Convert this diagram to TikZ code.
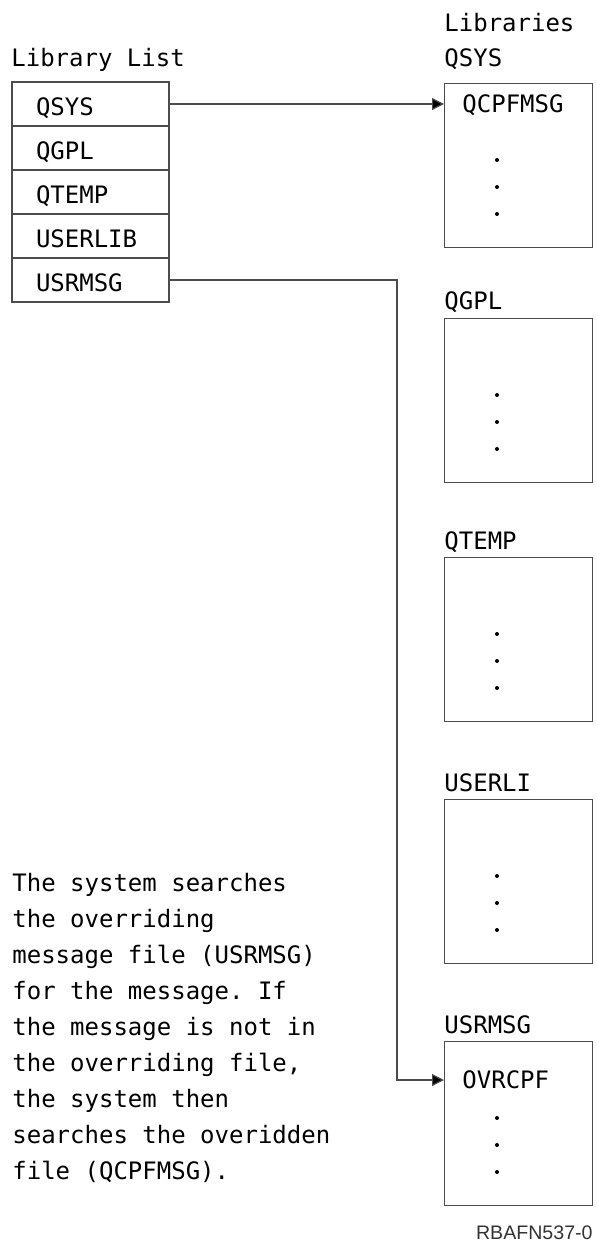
\documentclass[tikz,border=0pt]{standalone}
\usepackage{fontspec}
\setmainfont{DejaVu Sans Mono}
\newfontfamily\figfont{Liberation Sans}
\usetikzlibrary{positioning,arrows.meta}
\frenchspacing
\begin{document}
\begin{tikzpicture}[x=0.5pt,y=-0.5pt,
  every node/.style={font=\fontsize{12}{18}\selectfont,inner sep=0pt},
  row/.style={draw=black!70,line width=0.6pt,outer sep=0pt,minimum width=78.5pt,minimum height=22pt,
    text width=54.5pt,inner xsep=12pt,text height=12pt,text depth=0pt,align=left},
  libbox/.style={draw=black!70,line width=0.6pt,anchor=north west,minimum width=74pt,minimum height=82pt},
  link/.style={black!70,line width=0.6pt,-{Triangle[length=6pt,width=6pt,fill=black]}}]
\useasboundingbox (0,0) rectangle (597,1245);
% library list
\node[anchor=base west] (ll) at (11,67) {Library List};
\node[row] (r1) at (90.5,104) {QSYS};
\node[row,below=0pt of r1] (r2) {QGPL};
\node[row,below=0pt of r2] (r3) {QTEMP};
\node[row,below=0pt of r3] (r4) {USERLIB};
\node[row,below=0pt of r4] (r5) {USRMSG};
% libraries
\node[anchor=base west] (libs) at (444,32) {Libraries};
\foreach \nm/\ytop/\gap [count=\i] in {QSYS/83/8,QGPL/318/4,QTEMP/557/4,USERLI/799/4,USRMSG/1041/4}{
  \node[libbox] (b\i) at (444,\ytop) {};
  \node[anchor=base west] (n\i) at ([yshift=\gap pt]b\i.north west) {\nm};
  \foreach \dy in {77,104,131} \fill (497,\ytop+\dy) circle (1pt);
}
\node[anchor=west] (m1) at (462,105) {QCPFMSG};
\node[anchor=west] (m5) at (462,1080) {OVRCPF};
\coordinate (turn) at (397,281);
\draw[link] (r1.east) -- (r1.east -| b1.west);
\draw[link] (r5.east) -| (turn |- m5) -- (m5 -| b5.west);
% note
\node[anchor=north west,align=left] (note) at (12,873) {The system searches\\the overriding\\message file (USRMSG)\\for the message. If\\the message is not in\\the overriding file,\\the system then\\searches the overidden\\file (QCPFMSG).};
\node[anchor=base east,font=\figfont\fontsize{9.8}{12}\selectfont,text=black!80] (fig) at (593,1239) {RBAFN537-0};
\end{tikzpicture}
\end{document}
